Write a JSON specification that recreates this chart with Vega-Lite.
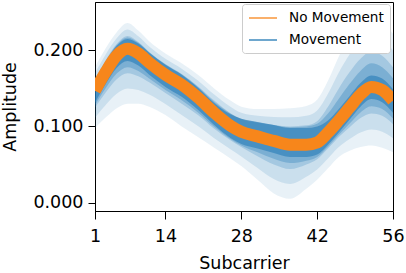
{
  "$schema": "https://vega.github.io/schema/vega-lite/v6.json",
  "width": 298,
  "height": 209,
  "autosize": {"type": "none"},
  "padding": {"left": 95, "top": 2, "right": 13, "bottom": 62},
  "config": {
    "font": "DejaVu Sans",
    "view": {"stroke": "black", "strokeWidth": 1},
    "axis": {"grid": false, "domainColor": "black", "tickColor": "black", "labelColor": "black", "titleColor": "black", "labelFont": "DejaVu Sans", "titleFont": "DejaVu Sans", "labelFontSize": 17.5, "titleFontSize": 17.5, "titleFontWeight": "normal"}
  },
  "data": {"values": [
    {"x": 1, "m": 0.147, "lo1": 0.098, "hi1": 0.178, "lo15": 0.1115, "hi15": 0.170, "lo2": 0.125, "hi2": 0.1625, "lo25": 0.128, "hi25": 0.161, "lo3": 0.131, "hi3": 0.160},
    {"x": 3, "m": 0.172, "lo1": 0.112, "hi1": 0.203, "lo15": 0.1285, "hi15": 0.195, "lo2": 0.145, "hi2": 0.1875, "lo25": 0.1505, "hi25": 0.186, "lo3": 0.156, "hi3": 0.185},
    {"x": 5, "m": 0.193, "lo1": 0.124, "hi1": 0.224, "lo15": 0.143, "hi15": 0.216, "lo2": 0.162, "hi2": 0.2085, "lo25": 0.1695, "hi25": 0.207, "lo3": 0.177, "hi3": 0.206},
    {"x": 7, "m": 0.202, "lo1": 0.130, "hi1": 0.236, "lo15": 0.150, "hi15": 0.2275, "lo2": 0.170, "hi2": 0.219, "lo25": 0.178, "hi25": 0.217, "lo3": 0.186, "hi3": 0.215},
    {"x": 9, "m": 0.196, "lo1": 0.130, "hi1": 0.226, "lo15": 0.148, "hi15": 0.2185, "lo2": 0.166, "hi2": 0.211, "lo25": 0.173, "hi25": 0.210, "lo3": 0.180, "hi3": 0.209},
    {"x": 11, "m": 0.184, "lo1": 0.126, "hi1": 0.212, "lo15": 0.142, "hi15": 0.205, "lo2": 0.158, "hi2": 0.198, "lo25": 0.163, "hi25": 0.1975, "lo3": 0.168, "hi3": 0.197},
    {"x": 14, "m": 0.168, "lo1": 0.115, "hi1": 0.196, "lo15": 0.1295, "hi15": 0.189, "lo2": 0.144, "hi2": 0.182, "lo25": 0.148, "hi25": 0.1815, "lo3": 0.152, "hi3": 0.181},
    {"x": 17, "m": 0.155, "lo1": 0.100, "hi1": 0.183, "lo15": 0.115, "hi15": 0.176, "lo2": 0.130, "hi2": 0.169, "lo25": 0.1345, "hi25": 0.1685, "lo3": 0.139, "hi3": 0.168},
    {"x": 20, "m": 0.138, "lo1": 0.086, "hi1": 0.168, "lo15": 0.1005, "hi15": 0.1605, "lo2": 0.115, "hi2": 0.153, "lo25": 0.1185, "hi25": 0.152, "lo3": 0.122, "hi3": 0.151},
    {"x": 23, "m": 0.118, "lo1": 0.072, "hi1": 0.150, "lo15": 0.0845, "hi15": 0.142, "lo2": 0.097, "hi2": 0.134, "lo25": 0.0995, "hi25": 0.1325, "lo3": 0.102, "hi3": 0.131},
    {"x": 26, "m": 0.101, "lo1": 0.058, "hi1": 0.134, "lo15": 0.070, "hi15": 0.126, "lo2": 0.082, "hi2": 0.1175, "lo25": 0.0835, "hi25": 0.117, "lo3": 0.085, "hi3": 0.116},
    {"x": 28, "m": 0.093, "lo1": 0.048, "hi1": 0.126, "lo15": 0.0605, "hi15": 0.118, "lo2": 0.073, "hi2": 0.1095, "lo25": 0.075, "hi25": 0.110, "lo3": 0.077, "hi3": 0.110},
    {"x": 31, "m": 0.087, "lo1": 0.030, "hi1": 0.123, "lo15": 0.0455, "hi15": 0.114, "lo2": 0.061, "hi2": 0.105, "lo25": 0.066, "hi25": 0.1055, "lo3": 0.071, "hi3": 0.106},
    {"x": 34, "m": 0.081, "lo1": 0.012, "hi1": 0.123, "lo15": 0.031, "hi15": 0.1125, "lo2": 0.050, "hi2": 0.102, "lo25": 0.0575, "hi25": 0.102, "lo3": 0.065, "hi3": 0.102},
    {"x": 37, "m": 0.076, "lo1": 0.005, "hi1": 0.124, "lo15": 0.0245, "hi15": 0.112, "lo2": 0.044, "hi2": 0.100, "lo25": 0.052, "hi25": 0.099, "lo3": 0.060, "hi3": 0.098},
    {"x": 40, "m": 0.076, "lo1": 0.018, "hi1": 0.127, "lo15": 0.034, "hi15": 0.114, "lo2": 0.050, "hi2": 0.1015, "lo25": 0.055, "hi25": 0.100, "lo3": 0.060, "hi3": 0.098},
    {"x": 42, "m": 0.079, "lo1": 0.030, "hi1": 0.135, "lo15": 0.0435, "hi15": 0.121, "lo2": 0.057, "hi2": 0.107, "lo25": 0.060, "hi25": 0.1035, "lo3": 0.063, "hi3": 0.100},
    {"x": 44, "m": 0.092, "lo1": 0.045, "hi1": 0.160, "lo15": 0.058, "hi15": 0.143, "lo2": 0.071, "hi2": 0.126, "lo25": 0.0735, "hi25": 0.117, "lo3": 0.076, "hi3": 0.108},
    {"x": 46, "m": 0.108, "lo1": 0.060, "hi1": 0.192, "lo15": 0.073, "hi15": 0.171, "lo2": 0.086, "hi2": 0.150, "lo25": 0.089, "hi25": 0.1365, "lo3": 0.092, "hi3": 0.123},
    {"x": 48, "m": 0.125, "lo1": 0.068, "hi1": 0.218, "lo15": 0.0835, "hi15": 0.195, "lo2": 0.099, "hi2": 0.1715, "lo25": 0.104, "hi25": 0.156, "lo3": 0.109, "hi3": 0.140},
    {"x": 50, "m": 0.142, "lo1": 0.073, "hi1": 0.236, "lo15": 0.092, "hi15": 0.2125, "lo2": 0.111, "hi2": 0.189, "lo25": 0.1185, "hi25": 0.173, "lo3": 0.126, "hi3": 0.157},
    {"x": 52, "m": 0.152, "lo1": 0.075, "hi1": 0.245, "lo15": 0.096, "hi15": 0.222, "lo2": 0.117, "hi2": 0.1985, "lo25": 0.1265, "hi25": 0.183, "lo3": 0.136, "hi3": 0.167},
    {"x": 54, "m": 0.148, "lo1": 0.072, "hi1": 0.238, "lo15": 0.093, "hi15": 0.2155, "lo2": 0.114, "hi2": 0.193, "lo25": 0.123, "hi25": 0.178, "lo3": 0.132, "hi3": 0.163},
    {"x": 56, "m": 0.134, "lo1": 0.066, "hi1": 0.222, "lo15": 0.0845, "hi15": 0.200, "lo2": 0.103, "hi2": 0.178, "lo25": 0.1105, "hi25": 0.1635, "lo3": 0.118, "hi3": 0.149}
  ]},
  "encoding": {
    "x": {"field": "x", "type": "quantitative", "scale": {"domain": [1, 56], "nice": false, "zero": false},
      "axis": {"values": [1, 14, 28, 42, 56], "title": "Subcarrier", "tickSize": 8, "labelPadding": 8, "titlePadding": 10, "labelFlush": false}}
  },
  "layer": [
    {"mark": {"type": "area", "interpolate": "monotone", "color": "#1f77b4", "opacity": 0.1, "clip": true},
     "encoding": {"y": {"field": "lo1", "type": "quantitative", "scale": {"domain": [-0.0111, 0.2636], "nice": false, "zero": false},
        "axis": {"values": [0, 0.1, 0.2], "format": ".3f", "title": "Amplitude", "tickSize": 7, "labelPadding": 5, "titlePadding": 13}},
       "y2": {"field": "hi1"}}},
    {"mark": {"type": "area", "interpolate": "monotone", "color": "#1f77b4", "opacity": 0.15, "clip": true},
     "encoding": {"y": {"field": "lo15", "type": "quantitative"}, "y2": {"field": "hi15"}}},
    {"mark": {"type": "area", "interpolate": "monotone", "color": "#1f77b4", "opacity": 0.22, "clip": true},
     "encoding": {"y": {"field": "lo2", "type": "quantitative"}, "y2": {"field": "hi2"}}},
    {"mark": {"type": "area", "interpolate": "monotone", "color": "#1f77b4", "opacity": 0.3, "clip": true},
     "encoding": {"y": {"field": "lo25", "type": "quantitative"}, "y2": {"field": "hi25"}}},
    {"mark": {"type": "area", "interpolate": "monotone", "color": "#1f77b4", "opacity": 0.55, "clip": true},
     "encoding": {"y": {"field": "lo3", "type": "quantitative"}, "y2": {"field": "hi3"}}},
    {"mark": {"type": "line", "interpolate": "monotone", "clip": true},
     "encoding": {"y": {"field": "m", "type": "quantitative"},
       "color": {"datum": "No Movement", "type": "nominal",
         "scale": {"domain": ["No Movement", "Movement"], "range": ["#f7861b", "#1f77b4"]},
         "legend": {"title": null, "orient": "none", "legendX": 147, "legendY": 2,
           "symbolType": "M-1,0H3", "symbolSize": 196, "symbolStrokeWidth": 1.3,
           "labelFontSize": 13.6, "labelFont": "DejaVu Sans", "labelColor": "black",
           "strokeColor": "#cccccc", "fillColor": "white", "cornerRadius": 3, "padding": 6, "rowPadding": 7, "labelOffset": 25,
           "encode": {"symbols": {"update": {"stroke": {"scale": "color", "field": "value"}, "strokeWidth": {"value": 1.3}, "fill": {"value": "transparent"}}}}}}}},
    {"mark": {"type": "line", "interpolate": "monotone", "strokeWidth": 12, "color": "#f7861b", "clip": true},
     "encoding": {"y": {"field": "m", "type": "quantitative"}}}
  ]
}
